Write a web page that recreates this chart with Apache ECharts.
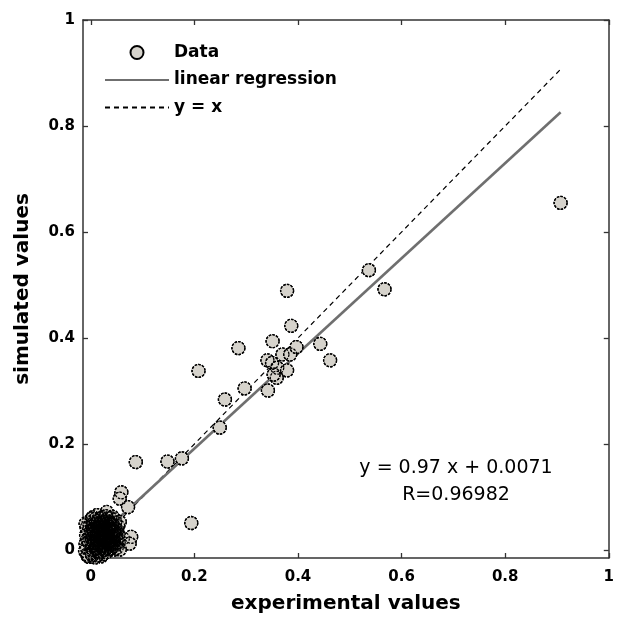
<!DOCTYPE html>
<html><head><meta charset="utf-8">
<script src="https://cdn.jsdelivr.net/npm/echarts@6/dist/echarts.min.js"></script>
<style>html,body{margin:0;padding:0;background:#fff}#c{width:617px;height:619px}</style>
</head><body><div id="c"></div>
<script>
// ---- data ----
const tickValues = [0, 0.2, 0.4, 0.6, 0.8, 1];
const axisMin = -0.015;
const axisMax = 1;
const expValues = [
  0.000,0.005,0.010,0.015,0.020,0.025,0.030,0.035,0.040,0.045,
  0.002,0.008,0.012,0.018,0.022,0.028,0.033,0.038,0.042,0.048,
  -0.004,0.012,0.031,0.003,0.009,0.015,0.020,0.026,0.032,0.038,
  0.044,0.050,0.052,0.006,0.016,0.024,0.029,0.036,0.041,0.046,
  0.001,0.004,0.013,0.019,0.027,0.034,0.010,0.023,0.047,0.053,
  -0.008,-0.006,-0.005,-0.007,-0.002,0.003,0.007,0.011,0.014,0.017,
  0.021,0.024,0.027,0.030,0.033,0.036,0.039,0.043,0.046,0.049,
  0.006,0.012,0.018,0.023,0.028,0.034,0.040,0.045,0.051,0.054,
  0.000,0.004,0.009,0.016,0.021,0.026,0.031,0.037,0.042,0.048,
  -0.003,0.002,0.008,0.013,0.019,0.025,0.029,0.035,0.041,0.044,
  -0.010,-0.009,-0.011,-0.008,-0.010,-0.006,-0.004,-0.001,0.001,0.003,
  0.005,0.007,0.009,0.011,0.014,0.016,0.018,0.020,0.022,0.024,
  0.026,0.028,0.030,0.032,0.034,0.036,0.038,0.040,0.042,0.044,
  0.003,0.006,0.010,0.015,0.019,0.023,0.027,0.031,0.035,0.039,
  0.043,0.047,0.050,0.008,0.014,0.020,0.025,0.030,0.036,0.041,
  0.001,0.005,0.011,0.017,0.022,0.028,0.033,0.038,0.045,0.049,
  0.056,0.062,0.078,0.075,0.056,0.059,0.056,0.072,0.087,0.148,
  0.176,0.194,0.249,0.259,0.297,0.342,0.285,0.208,0.341,0.350,
  0.370,0.385,0.360,0.379,0.359,0.353,0.351,0.397,0.443,0.462,
  0.387,0.379,0.537,0.567,0.907,0.002
];
const simValues = [
  0.000,0.010,0.002,0.020,0.008,0.030,0.015,0.040,0.025,0.035,
  0.030,0.045,0.035,0.050,0.042,0.055,0.048,0.060,0.050,0.040,
  0.053,0.066,0.072,-0.010,-0.014,-0.005,-0.012,0.000,0.005,0.010,
  0.015,0.020,0.030,0.022,0.012,0.018,0.026,0.022,0.005,0.008,
  0.015,0.040,0.028,0.038,0.045,0.032,0.055,0.062,0.052,0.045,
  0.005,0.020,0.035,-0.008,0.045,0.052,0.032,0.018,0.044,0.003,
  0.027,0.052,0.010,0.036,0.060,0.002,0.043,0.027,0.058,0.012,
  -0.004,0.009,0.025,-0.008,0.040,0.018,0.034,0.001,0.037,0.015,
  0.025,0.062,0.040,0.058,0.015,0.033,0.050,0.027,0.063,0.024,
  -0.013,0.008,0.014,-0.010,0.047,0.022,0.064,0.012,0.018,0.046,
  0.012,0.028,-0.002,0.042,0.050,-0.011,0.015,0.030,-0.006,0.022,
  0.036,0.048,0.004,0.028,0.054,0.020,0.034,-0.003,0.055,0.008,
  0.046,0.024,-0.004,0.028,0.040,0.050,0.016,0.010,0.038,0.022,
  0.044,0.014,0.024,0.032,0.010,0.040,0.018,0.022,0.054,0.003,
  0.010,0.030,0.004,0.058,-0.002,0.060,0.005,0.028,0.038,0.048,
  0.036,0.026,0.050,0.041,0.034,0.002,0.014,0.048,0.035,0.028,
  0.053,0.022,0.025,0.012,0.001,0.109,0.097,0.081,0.166,0.167,
  0.173,0.051,0.231,0.284,0.305,0.301,0.381,0.338,0.358,0.353,
  0.369,0.369,0.344,0.339,0.325,0.331,0.394,0.383,0.389,0.358,
  0.423,0.489,0.528,0.492,0.655,0.059
];
const regressionX = [0.0, 0.907];
const regressionY = [0.012, 0.826];
const identityX = [0.0, 0.907];
const identityY = [0.0, 0.907];
const seriesNames = ['Data', 'linear regression', 'y = x'];
const axisTitles = ['experimental values', 'simulated values'];
const eqText = 'y = 0.97 x + 0.0071';
const rText = 'R=0.96982';

// ---- chart ----
const pts = expValues.map((x, i) => [x, simValues[i]]);
const reg = regressionX.map((x, i) => [x, regressionY[i]]);
const ident = identityX.map((x, i) => [x, identityY[i]]);

const FONT = 'DejaVu Sans';
const axColor = '#333';
function mkAxis(extra) {
  return Object.assign({
    type: 'value', min: axisMin, max: axisMax,
    axisLine: { show: true, onZero: false, lineStyle: { color: axColor, width: 1.5 } },
    axisTick: { show: true, inside: true, length: 5, customValues: tickValues, lineStyle: { color: axColor, width: 1.3 } },
    splitLine: { show: false },
    axisLabel: { show: false }
  }, extra);
}
const labelStyle = { show: true, customValues: tickValues, fontFamily: FONT, fontWeight: 'bold', fontSize: 15, color: '#000' };
const nameStyle = { fontFamily: FONT, fontWeight: 'bold', fontSize: 20, color: '#000' };
const hideSym = { color: 'rgba(0,0,0,0)', borderWidth: 0 };
const edgeStyle = { borderColor: '#000', borderWidth: 1.3, borderType: [2.5, 1.2] };

const chart = echarts.init(document.getElementById('c'), null, { renderer: 'canvas' });
chart.setOption({
  animation: false,
  backgroundColor: '#fff',
  grid: { left: 83, right: 1, top: 20, bottom: 58, containLabel: false },
  xAxis: [
    mkAxis({ position: 'bottom', name: axisTitles[0], nameLocation: 'middle', nameGap: 36, nameTextStyle: nameStyle,
      axisLabel: Object.assign({}, labelStyle, { margin: 12 }) }),
    mkAxis({ position: 'top' })
  ],
  yAxis: [
    mkAxis({ position: 'left', name: axisTitles[1], nameLocation: 'middle', nameGap: 50, nameTextStyle: nameStyle,
      axisLabel: Object.assign({}, labelStyle, { margin: 8 }) }),
    mkAxis({ position: 'right' })
  ],
  legend: {
    orient: 'vertical', left: 99, top: 39, itemWidth: 64, itemHeight: 13, itemGap: 10.5,
    textStyle: { fontFamily: FONT, fontWeight: 'bold', fontSize: 17, color: '#000' },
    data: [
      { name: seriesNames[0] },
      { name: seriesNames[1], itemStyle: hideSym },
      { name: seriesNames[2], itemStyle: hideSym }
    ]
  },
  series: [
    { name: seriesNames[2], type: 'line', data: ident, symbol: 'none', z: 1,
      lineStyle: { color: '#000', width: 1.2, type: [5, 4] } },
    { name: seriesNames[1], type: 'line', data: reg, symbol: 'none', z: 1,
      lineStyle: { color: '#6f6f6f', width: 2.6 } },
    { name: seriesNames[0], type: 'scatter', data: pts, symbol: 'circle', symbolSize: 13, z: 2,
      itemStyle: Object.assign({ color: '#d6d3cc', opacity: 1 }, edgeStyle) },
    { name: 'edges', type: 'scatter', data: pts, symbol: 'circle', symbolSize: 13, z: 3, silent: true,
      itemStyle: Object.assign({ color: 'rgba(0,0,0,0)', opacity: 1 }, edgeStyle) }
  ],
  graphic: [
    { type: 'text', x: 456, y: 468, style: { text: eqText, font: '19px "DejaVu Sans"', fill: '#000', align: 'center', verticalAlign: 'middle' } },
    { type: 'text', x: 456, y: 495, style: { text: rText, font: '19px "DejaVu Sans"', fill: '#000', align: 'center', verticalAlign: 'middle' } }
  ]
});
</script></body></html>
